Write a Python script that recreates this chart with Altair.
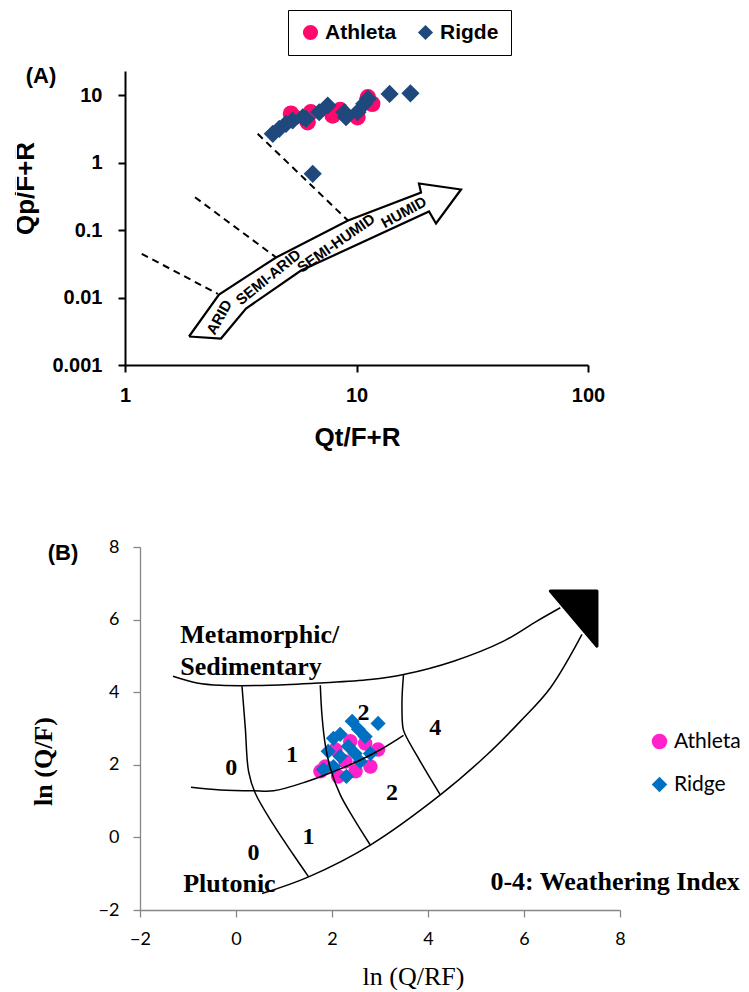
import altair as alt
import pandas as pd

# ---------------- Panel A values (log-log) ----------------
series_a = ["Athleta", "Rigde"]
colors_a = ["#FF0A6C", "#1F497D"]
shapes = ["circle", "diamond"]

athleta_a_qt = [5.21, 5.39, 6.15, 6.35, 7.89, 8.50, 10.1, 11.2, 11.7]
athleta_a_qp = [5.30, 4.69, 3.95, 5.56, 4.97, 6.00, 4.69, 9.27, 7.41]
ridge_a_qt = [4.35, 4.64, 4.96, 5.30, 5.86, 6.05, 6.90, 7.51, 8.86, 9.01, 10.1, 10.8, 11.2, 13.9, 17.1, 6.47]
ridge_a_qp = [2.66, 3.16, 3.74, 4.19, 4.69, 4.44, 5.56, 6.99, 5.56, 4.69, 5.56, 7.41, 8.78, 10.4, 10.6, 0.68]

x_ticks_a = [1, 10, 100]
y_ticks_a = [0.001, 0.01, 0.1, 1, 10]

# climate arrow outline (data space)
arrow_qt = [1.890, 2.598, 3.332, 5.758, 20.57, 22.05, 28.28, 18.62, 19.00, 9.19, 4.49, 2.547, 1.890]
arrow_qp = [0.002643, 0.002470, 0.006871, 0.02512, 0.1880, 0.1249, 0.398, 0.489, 0.359, 0.1383, 0.0391, 0.01108, 0.002643]

# dashed climate boundaries
dash_id = [1, 1, 2, 2, 3, 3]
dash_qt = [1.181, 2.514, 2.006, 4.49, 3.742, 9.19]
dash_qp = [0.04439, 0.01135, 0.306, 0.0394, 2.661, 0.138]

climate_labels = ["ARID", "SEMI-ARID", "SEMI-HUMID", "HUMID"]
climate_qt = [2.555, 4.16, 8.155, 16.0]
climate_qp = [0.0051, 0.0200, 0.0637, 0.1837]
climate_angle = [299, 321, 325, 331]

# ---------------- Panel B values ----------------
series_b = ["Athleta", "Ridge"]
colors_b = ["#FF22CC", "#0070C0"]

athleta_b_x = [1.86, 2.13, 2.07, 2.80, 2.96, 2.69, 2.38, 2.28, 1.76, 2.49]
athleta_b_y = [1.95, 1.68, 2.42, 1.95, 2.42, 2.59, 2.65, 2.09, 1.82, 1.82]
ridge_b_x = [2.03, 2.17, 2.42, 2.55, 2.69, 2.96, 2.34, 2.48, 2.17, 1.82, 2.03, 2.30, 2.59, 2.80, 1.92]
ridge_b_y = [2.73, 2.84, 3.20, 2.98, 2.78, 3.14, 2.51, 2.31, 2.23, 1.87, 1.95, 1.68, 2.09, 2.31, 2.37]

b_ticks = [-2, 0, 2, 4, 6, 8]

curve_upper_x = [-1.3125, -0.8125, -0.327, 0.715, 1.756, 2.798, 3.49, 4.533, 5.575, 6.27, 6.756]
curve_upper_y = [4.44, 4.254, 4.19, 4.19, 4.254, 4.348, 4.486, 4.854, 5.406, 5.959, 6.326]
curve_lower_x = [0.542, 1.5125, 2.798, 4.256, 5.229, 5.923, 6.548, 7.208]
curve_lower_y = [-1.547, -1.086, -0.21, 1.171, 2.276, 3.196, 4.116, 5.591]
curve_mid_x = [-0.9375, -0.327, 0.367, 0.783, 1.479, 2.033, 2.45, 3.006, 3.49]
curve_mid_y = [1.381, 1.309, 1.282, 1.282, 1.539, 1.815, 2.044, 2.414, 2.81]
curve_v1_x = [0.125, 0.194, 0.2625, 0.402, 0.783, 1.2, 1.5125]
curve_v1_y = [4.163, 3.011, 1.815, 1.215, 0.3425, -0.486, -1.086]
curve_v2_x = [1.756, 1.79, 1.86, 1.965, 2.173, 2.45, 2.798]
curve_v2_y = [4.19, 3.38, 2.55, 1.906, 1.171, 0.525, -0.21]
curve_v3_x = [3.49, 3.458, 3.479, 3.527, 3.84, 4.256]
curve_v3_y = [4.486, 3.749, 3.011, 2.829, 2.09, 1.171]

head_x = [6.548, 7.52]
head_y = [6.787, 5.268]
head_y2 = [6.787, 6.787]

region_text = ["Metamorphic/", "Sedimentary", "Plutonic", "0-4: Weathering Index"]
region_x = [-1.16, -1.16, -1.10, 5.30]
region_y = [5.35, 4.486, -1.50, -1.45]

zone_text = ["0", "1", "2", "4", "2", "1", "0"]
zone_x = [-0.098, 1.167, 2.658, 4.152, 3.25, 1.5125, 0.367]
zone_y = [1.906, 2.276, 3.425, 3.011, 1.215, 0.019, -0.442]

# ---------------- build tables ----------------
ptsA = pd.DataFrame({
    "series": ["Athleta"] * len(athleta_a_qt) + ["Rigde"] * len(ridge_a_qt),
    "x": athleta_a_qt + ridge_a_qt,
    "y": athleta_a_qp + ridge_a_qp,
})
arrowA = pd.DataFrame({"x": arrow_qt, "y": arrow_qp, "i": list(range(len(arrow_qt)))})
dashA = pd.DataFrame({"id": dash_id, "x": dash_qt, "y": dash_qp})
climA = pd.DataFrame({"t": climate_labels, "x": climate_qt, "y": climate_qp, "a": climate_angle})

ptsB = pd.DataFrame({
    "series": ["Athleta"] * len(athleta_b_x) + ["Ridge"] * len(ridge_b_x),
    "x": athleta_b_x + ridge_b_x,
    "y": athleta_b_y + ridge_b_y,
})
curves = []
for cid, xs, ys in [("upper", curve_upper_x, curve_upper_y), ("lower", curve_lower_x, curve_lower_y),
                    ("mid", curve_mid_x, curve_mid_y), ("v1", curve_v1_x, curve_v1_y),
                    ("v2", curve_v2_x, curve_v2_y), ("v3", curve_v3_x, curve_v3_y)]:
    for k, (xx, yy) in enumerate(zip(xs, ys)):
        curves.append({"id": cid, "i": k, "x": xx, "y": yy})
curvesB = pd.DataFrame(curves)
headB = pd.DataFrame({"x": head_x, "y": head_y, "y2": head_y2})
regionB = pd.DataFrame({"t": region_text, "x": region_x, "y": region_y})
zoneB = pd.DataFrame({"t": zone_text, "x": zone_x, "y": zone_y})
one = pd.DataFrame({"a": [0]})

SANS = "Liberation Sans"
SERIF = "Liberation Serif"

# ---------------- Panel A ----------------
# both panels share the same group origin (x=139); panel A's plot starts 15 px further left
axAx = alt.Axis(values=x_ticks_a, format="~g", title="Qt/F+R", grid=False,
                domainColor="black", domainWidth=2, tickColor="black", tickWidth=2, tickSize=7,
                labelFont=SANS, labelFontSize=20, labelFontWeight="bold", labelColor="black",
                labelPadding=13, labelFlush=False, labelOverlap=False,
                titleFont=SANS, titleFontSize=26, titleFontWeight="bold", titleColor="black",
                titleX=217, titleY=72, titleBaseline="middle")
axAy = alt.Axis(values=y_ticks_a, format="~g", title="Qp/F+R", grid=False, offset=15,
                domainColor="black", domainWidth=2, tickColor="black", tickWidth=2, tickSize=7,
                labelFont=SANS, labelFontSize=20, labelFontWeight="bold", labelColor="black",
                labelPadding=16, labelFlush=False, labelOverlap=False,
                titleFont=SANS, titleFontSize=26, titleFontWeight="bold", titleColor="black",
                titleAngle=270, titleX=-100, titleY=117, titleBaseline="middle", titleAlign="center")
xA = alt.X("x:Q", scale=alt.Scale(type="log", domain=[1, 100], nice=False, range=[-15, 448]), axis=axAx)
yA = alt.Y("y:Q", scale=alt.Scale(type="log", domain=[0.001, 22.7], nice=False), axis=axAy)

legA = alt.Legend(title=None, orient="none", legendX=148, legendY=-61, direction="horizontal",
                  strokeColor="black", padding=12, labelFont=SANS, labelFontSize=21,
                  labelFontWeight="bold", labelColor="black", symbolSize=230,
                  columnPadding=18, labelOffset=4, symbolStrokeWidth=0, gridAlign="none")
colA = alt.Color("series:N", scale=alt.Scale(domain=series_a, range=colors_a), legend=legA)
shpA = alt.Shape("series:N", scale=alt.Scale(domain=series_a, range=shapes), legend=legA)

anchorA = alt.Chart(one).mark_rule(color="white", strokeWidth=1).encode(
    x=alt.value(-123.5), y=alt.value(-69.5), y2=alt.value(389.5))
arrowLayer = alt.Chart(arrowA).mark_line(color="black", strokeWidth=2.2, strokeJoin="miter").encode(
    x=xA, y=yA, order=alt.Order("i:Q"))
dashLayer = alt.Chart(dashA).mark_line(color="black", strokeWidth=2, strokeDash=[7, 5]).encode(
    x=xA, y=yA, detail="id:N")
climLayer = alt.Chart(climA).mark_text(font=SANS, fontSize=15, fontWeight="bold", color="black",
                                       align="center", baseline="middle").encode(
    x=xA, y=yA, text="t:N", angle=alt.Angle("a:Q", scale=None))
athA = alt.Chart(ptsA).transform_filter(alt.datum.series == "Athleta").mark_point(
    filled=True, opacity=1, size=270, strokeWidth=0).encode(x=xA, y=yA, color=colA, shape=shpA)
ridA = alt.Chart(ptsA).transform_filter(alt.datum.series == "Rigde").mark_point(
    filled=True, opacity=1, size=330, strokeWidth=0).encode(x=xA, y=yA, color=colA, shape=shpA)
labA = alt.Chart(one).mark_text(text="(A)", font=SANS, fontSize=22, fontWeight="bold",
                                color="black", align="center", baseline="middle").encode(
    x=alt.value(-99), y=alt.value(5))

panelA = alt.layer(anchorA, dashLayer, arrowLayer, climLayer, athA, ridA, labA).properties(
    width=448, height=294)

# ---------------- Panel B ----------------
GRAY = "#868686"
LAB = "Lato"
axBx = alt.Axis(values=b_ticks, title="ln (Q/RF)", grid=False,
                domainColor=GRAY, domainWidth=1.3, tickColor=GRAY, tickWidth=1.3, tickSize=7,
                labelFont=LAB, labelFontSize=18, labelColor="black", labelPadding=13,
                labelFlush=False, labelOverlap=False,
                titleFont=SERIF, titleFontSize=26, titleFontWeight="normal", titleColor="black",
                titleX=273, titleY=66, titleBaseline="middle")
axBy = alt.Axis(values=b_ticks, title="ln (Q/F)", grid=False,
                domainColor=GRAY, domainWidth=1.3, tickColor=GRAY, tickWidth=1.3, tickSize=7,
                labelFont=LAB, labelFontSize=18, labelColor="black", labelPadding=14,
                labelFlush=False, labelOverlap=False,
                titleFont=SERIF, titleFontSize=26, titleFontWeight="bold", titleColor="black",
                titleAngle=270, titleX=-97, titleY=214, titleBaseline="middle", titleAlign="center")
xB = alt.X("x:Q", scale=alt.Scale(domain=[-2, 8], nice=False), axis=axBx)
yB = alt.Y("y:Q", scale=alt.Scale(domain=[-2, 8], nice=False), axis=axBy)

legB = alt.Legend(title=None, orient="none", legendX=509, legendY=184, direction="vertical",
                  padding=0, labelFont=LAB, labelFontSize=21, labelColor="black",
                  symbolSize=240, rowPadding=21, labelOffset=4, symbolStrokeWidth=0)
colB = alt.Color("series:N", scale=alt.Scale(domain=series_b, range=colors_b), legend=legB)
shpB = alt.Shape("series:N", scale=alt.Scale(domain=series_b, range=shapes), legend=legB)

anchorB = alt.Chart(one).mark_rule(color="white", strokeWidth=1).encode(
    x=alt.value(-138.5), y=alt.value(-83.5), y2=alt.value(0))
athB = alt.Chart(ptsB).transform_filter(alt.datum.series == "Athleta").mark_point(
    filled=True, opacity=1, size=210, strokeWidth=0).encode(x=xB, y=yB, color=colB, shape=shpB)
ridB = alt.Chart(ptsB).transform_filter(alt.datum.series == "Ridge").mark_point(
    filled=True, opacity=1, size=230, strokeWidth=0).encode(x=xB, y=yB, color=colB, shape=shpB)
curveLayer = alt.Chart(curvesB).mark_line(color="black", strokeWidth=1.5, interpolate="catmull-rom").encode(
    x=xB, y=yB, detail="id:N", order=alt.Order("i:Q"))
headLayer = alt.Chart(headB).mark_area(color="black", stroke="black", strokeWidth=3,
                                       strokeJoin="round", opacity=1).encode(
    x=xB, y=yB, y2="y2:Q")
regionLayer = alt.Chart(regionB).mark_text(font=SERIF, fontSize=26, fontWeight="bold", color="black",
                                           align="left", baseline="alphabetic").encode(
    x=xB, y=yB, text="t:N")
zoneLayer = alt.Chart(zoneB).mark_text(font=SERIF, fontSize=24, fontWeight="bold", color="black",
                                       align="center", baseline="middle").encode(
    x=xB, y=yB, text="t:N")
labB = alt.Chart(one).mark_text(text="(B)", font=SANS, fontSize=22, fontWeight="bold",
                                color="black", align="center", baseline="middle").encode(
    x=alt.value(-77), y=alt.value(6))

panelB = alt.layer(anchorB, athB, ridB, curveLayer, headLayer, regionLayer, zoneLayer, labB).properties(
    width=480, height=363)

chart = alt.vconcat(panelA, panelB, spacing=0).resolve_scale(
    color="independent", shape="independent").properties(
    padding=0, background="white").configure_view(stroke="transparent")

chart.save("out.html", embed_options={"renderer": "svg", "actions": False})
